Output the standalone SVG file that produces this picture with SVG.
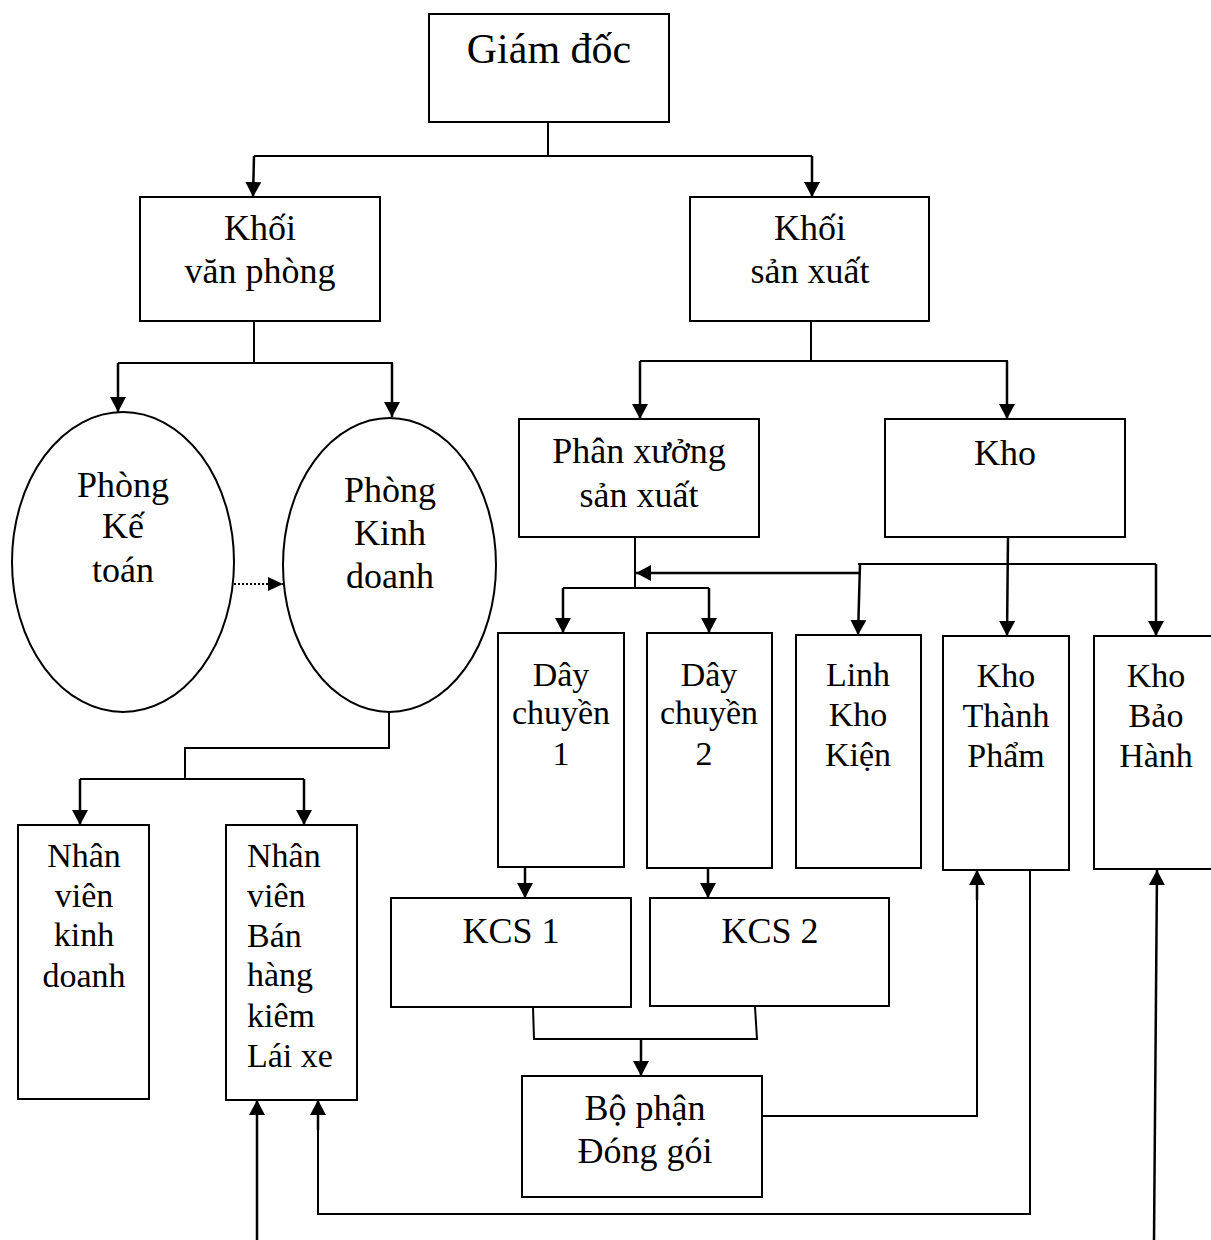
<svg xmlns="http://www.w3.org/2000/svg" width="1211" height="1240" viewBox="0 0 1211 1240">
<style>
.box{fill:#fff;stroke:#000;stroke-width:2}
.t{font-family:'Liberation Serif',Tinos,'Times New Roman','Noto Serif','DejaVu Serif',serif;fill:#000;text-anchor:middle}
.l{text-anchor:start}
.t36{font-size:36px}
.t34{font-size:34px}
.ln{fill:none;stroke:#000;stroke-width:2}
.ar{fill:none;stroke:#000;stroke-width:2.5}
.dot{fill:none;stroke:#000;stroke-width:2;stroke-dasharray:2 2}
</style>
<defs>
<marker id="ah" markerUnits="userSpaceOnUse" markerWidth="16" markerHeight="16" refX="15" refY="8" orient="auto">
<path d="M0,0 L15,8 L0,16 z" fill="#000"/>
</marker>
<marker id="ahs" markerUnits="userSpaceOnUse" markerWidth="15" markerHeight="14" refX="15" refY="7" orient="auto">
<path d="M0,0 L15,7 L0,14 z" fill="#000"/>
</marker>
</defs>
<rect width="1211" height="1240" fill="#fff"/>
<g id="connectors">
<path class="ln" d="M548,122 V156 M254,156 H812"/>
<path class="ar" d="M254,156 L253,197" marker-end="url(#ah)"/>
<path class="ar" d="M812,156 V197" marker-end="url(#ah)"/>
<path class="ln" d="M254,321 V363 M118,363 H393"/>
<path class="ar" d="M118,363 V412" marker-end="url(#ah)"/>
<path class="ar" d="M392,363 V417" marker-end="url(#ah)"/>
<path class="ln" d="M811,321 V361 M640,361 H1008"/>
<path class="ar" d="M640,361 V419" marker-end="url(#ah)"/>
<path class="ar" d="M1007,361 V419" marker-end="url(#ah)"/>
<path class="dot" d="M234,584 H283" marker-end="url(#ahs)"/>
<path class="ln" d="M389,712 V748 H185 V779 M80,779 H304"/>
<path class="ar" d="M80,779 V825" marker-end="url(#ah)"/>
<path class="ar" d="M304,779 V825" marker-end="url(#ah)"/>
<path class="ln" d="M635,537 V588 M563,588 H709"/>
<path class="ar" d="M563,588 V633" marker-end="url(#ah)"/>
<path class="ar" d="M709,588 V633" marker-end="url(#ah)"/>
<path class="ar" d="M1008,537 L1007,636" marker-end="url(#ah)"/>
<path class="ln" d="M858,564 H1156"/>
<path class="ar" d="M1156,564 V636" marker-end="url(#ah)"/>
<path class="ar" d="M860,564 L858,635" marker-end="url(#ah)"/>
<path class="ar" d="M860,573 H636" marker-end="url(#ah)"/>
<path class="ar" d="M525,867 V898" marker-end="url(#ah)"/>
<path class="ar" d="M708,868 V898" marker-end="url(#ah)"/>
<path class="ln" d="M533,1007 L534,1039 H757 L755,1007"/>
<path class="ar" d="M641,1039 V1076" marker-end="url(#ah)"/>
<path class="ln" d="M759,1116 H977 V885"/>
<path class="ar" d="M977,900 V870" marker-end="url(#ah)"/>
<path class="ln" d="M1030,870 V1214 H318 V1120"/>
<path class="ar" d="M318,1130 V1100" marker-end="url(#ah)"/>
<path class="ar" d="M1154,1240 L1157,870" marker-end="url(#ah)"/>
<path class="ar" d="M257,1240 V1100" marker-end="url(#ah)"/>
</g>
<g id="giam-doc">
<rect class="box" x="429" y="14" width="240" height="108"/>
<text class="t" x="549" y="63" font-size="42">Giám đốc</text>
</g>
<g id="khoi-van-phong">
<rect class="box" x="140" y="197" width="240" height="124"/>
<text class="t t36" x="260" y="240">Khối</text>
<text class="t t36" x="260" y="283">văn phòng</text>
</g>
<g id="khoi-san-xuat">
<rect class="box" x="690" y="197" width="239" height="124"/>
<text class="t t36" x="810" y="240">Khối</text>
<text class="t t36" x="810" y="283">sản xuất</text>
</g>
<g id="phong-ke-toan">
<ellipse class="box" cx="123" cy="562" rx="111" ry="150"/>
<text class="t t36" x="123" y="497">Phòng</text>
<text class="t t36" x="123" y="538">Kế</text>
<text class="t t36" x="123" y="582">toán</text>
</g>
<g id="phong-kinh-doanh">
<ellipse class="box" cx="389.5" cy="565" rx="106.5" ry="147"/>
<text class="t t36" x="390" y="502">Phòng</text>
<text class="t t36" x="390" y="545">Kinh</text>
<text class="t t36" x="390" y="588">doanh</text>
</g>
<g id="phan-xuong">
<rect class="box" x="519" y="419" width="240" height="118"/>
<text class="t t36" x="639" y="463">Phân xưởng</text>
<text class="t t36" x="639" y="507">sản xuất</text>
</g>
<g id="kho">
<rect class="box" x="885" y="419" width="240" height="118"/>
<text class="t t36" x="1005" y="465">Kho</text>
</g>
<g id="day-chuyen-1">
<rect class="box" x="498" y="633" width="126" height="234"/>
<text class="t t34" x="561" y="686">Dây</text>
<text class="t t34" x="561" y="724">chuyền</text>
<text class="t t34" x="561" y="765">1</text>
</g>
<g id="day-chuyen-2">
<rect class="box" x="647" y="633" width="125" height="235"/>
<text class="t t34" x="709" y="686">Dây</text>
<text class="t t34" x="709" y="724">chuyền</text>
<text class="t t34" x="704" y="765">2</text>
</g>
<g id="linh-kho-kien">
<rect class="box" x="796" y="635" width="125" height="233"/>
<text class="t t34" x="858" y="686">Linh</text>
<text class="t t34" x="858" y="726">Kho</text>
<text class="t t34" x="858" y="766">Kiện</text>
</g>
<g id="kho-thanh-pham">
<rect class="box" x="943" y="636" width="126" height="234"/>
<text class="t t34" x="1006" y="687">Kho</text>
<text class="t t34" x="1006" y="727">Thành</text>
<text class="t t34" x="1006" y="767">Phẩm</text>
</g>
<g id="kho-bao-hanh">
<rect class="box" x="1094" y="636" width="130" height="233"/>
<text class="t t34" x="1156" y="687">Kho</text>
<text class="t t34" x="1156" y="727">Bảo</text>
<text class="t t34" x="1156" y="767">Hành</text>
</g>
<g id="nhan-vien-kinh-doanh">
<rect class="box" x="18" y="825" width="131" height="274"/>
<text class="t t34" x="84" y="867">Nhân</text>
<text class="t t34" x="84" y="907">viên</text>
<text class="t t34" x="84" y="946">kinh</text>
<text class="t t34" x="84" y="987">doanh</text>
</g>
<g id="nhan-vien-ban-hang">
<rect class="box" x="226" y="825" width="131" height="275"/>
<text class="t t34 l" x="247" y="867">Nhân</text>
<text class="t t34 l" x="247" y="907">viên</text>
<text class="t t34 l" x="247" y="947">Bán</text>
<text class="t t34 l" x="247" y="986">hàng</text>
<text class="t t34 l" x="247" y="1027">kiêm</text>
<text class="t t34 l" x="247" y="1067">Lái xe</text>
</g>
<g id="kcs-1">
<rect class="box" x="391" y="898" width="240" height="109"/>
<text class="t t36" x="511" y="943">KCS 1</text>
</g>
<g id="kcs-2">
<rect class="box" x="650" y="898" width="239" height="108"/>
<text class="t t36" x="770" y="943">KCS 2</text>
</g>
<g id="bo-phan-dong-goi">
<rect class="box" x="522" y="1076" width="240" height="121"/>
<text class="t t36" x="645" y="1120">Bộ phận</text>
<text class="t t36" x="645" y="1163">Đóng gói</text>
</g>
</svg>
